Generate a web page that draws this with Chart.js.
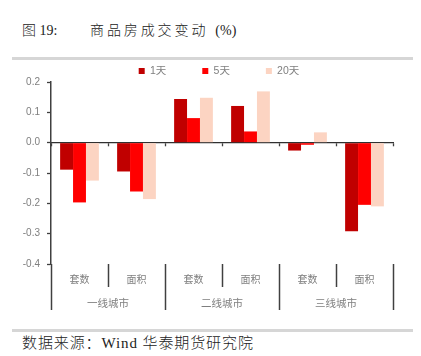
<!DOCTYPE html>
<html>
<head>
<meta charset="utf-8">
<script src="https://cdn.jsdelivr.net/npm/chart.js@4"></script>
<style>
  html, body { margin: 0; padding: 0; background: #fff; }
  #page { position: relative; width: 421px; height: 356px; overflow: hidden; }
  #chartBox { position: absolute; left: 0; top: 0; width: 421px; height: 356px; }
  .txt { position: absolute; white-space: nowrap; color: #222; font-weight: 300; }
  .serif { font-family: "Liberation Serif", "DejaVu Serif", "Noto Sans CJK SC", serif; }
  .rule { position: absolute; left: 12px; width: 401px; height: 3px; background: #d6d6d6; }
</style>
</head>
<body>
<div id="page">
  <div class="txt serif" style="left:22px; top:23px; font-size:14px; line-height:16px;">图 19:</div>
  <div class="txt serif" style="left:90px; top:23px; font-size:14px; line-height:16px;"><span style="letter-spacing:2.9px;">商品房成交变动</span><span>&nbsp;&nbsp;(%)</span></div>
  <div class="rule" style="top:57px;"></div>
  <div class="rule" style="top:329px;"></div>
  <div class="txt serif" style="left:22px; top:335px; font-size:15px; line-height:17px; letter-spacing:0.9px;">数据来源：Wind 华泰期货研究院</div>
  <div id="chartBox"><canvas id="c"></canvas></div>
</div>
<script>
// ---- data ----
const subLabels = ['套数', '面积', '套数', '面积', '套数', '面积'];
const groupLabels = ['一线城市', '二线城市', '三线城市'];
const seriesNames = ['1天', '5天', '20天'];
const day1  = [-0.089, -0.095, 0.144, 0.121, -0.026, -0.292];
const day5  = [-0.197, -0.161, 0.081, 0.037, -0.007, -0.205];
const day20 = [-0.125, -0.186, 0.148, 0.169,  0.034, -0.210];
const yTicks = [0.2, 0.1, 0.0, -0.1, -0.2, -0.3, -0.4];

const seriesColors = ['#C00000', '#FF0000', '#FCD4C2'];
const FONT = 'Liberation Sans, "Noto Sans CJK SC", sans-serif';
const GRAY = '#7f7f7f';
const LINE = '#404040';

// centre the legend over the plot area (as in the reference)
const legendOverPlot = {
  id: 'legendOverPlot',
  afterLayout(chart) {
    const l = chart.legend, a = chart.chartArea;
    if (l && a) { l.left = a.left - 6; l.right = a.right; }
  }
};

new Chart(document.getElementById('c'), {
  type: 'bar',
  plugins: [legendOverPlot],
  data: {
    labels: subLabels,
    datasets: [day1, day5, day20].map((d, i) => ({
      label: seriesNames[i],
      data: d,
      backgroundColor: seriesColors[i],
      borderWidth: 0,
      xAxisID: 'x',
      yAxisID: 'y',
      categoryPercentage: 0.68,
      barPercentage: 1.0
    }))
  },
  options: {
    responsive: true,
    maintainAspectRatio: false,
    animation: false,
    layout: { padding: { top: 29.75, left: 0, right: 28, bottom: 46 } },
    plugins: {
      tooltip: { enabled: false },
      legend: {
        position: 'top',
        align: 'center',
        maxHeight: 52.25,
        labels: {
          boxWidth: 6,
          boxHeight: 6,
          padding: 36,
          color: GRAY,
          font: { family: FONT, size: 10.5 }
        }
      }
    },
    scales: {
      x: {
        axis: 'x',
        type: 'category',
        position: 'bottom',
        offset: true,
        grid: {
          offset: true, display: true, drawOnChartArea: false, drawTicks: true,
          tickLength: 23, tickColor: LINE, tickWidth: 1.5
        },
        border: { display: false },
        ticks: { color: GRAY, padding: -13, maxRotation: 0, autoSkip: false,
                 font: { family: FONT, size: 10 } },
        afterFit(s) { s.height = 23; }
      },
      xg: {
        axis: 'x',
        type: 'category',
        position: 'bottom',
        labels: groupLabels,
        offset: true,
        grid: {
          offset: true, display: true, drawOnChartArea: false, drawTicks: true,
          tickLength: 23, tickColor: LINE, tickWidth: 1.5
        },
        border: { display: false },
        ticks: { color: GRAY, padding: -12.5, maxRotation: 0, autoSkip: false,
                 font: { family: FONT, size: 10.5 } },
        afterFit(s) { s.height = 23; }
      },
      xz: {
        axis: 'x',
        type: 'category',
        position: { y: 0 },
        offset: true,
        z: 1,
        grid: {
          offset: true, display: true, drawOnChartArea: false, drawTicks: true,
          tickLength: 3, tickColor: LINE, tickWidth: 1.3
        },
        border: { display: true, color: '#303030', width: 1.3 },
        ticks: { display: false }
      },
      y: {
        type: 'linear',
        position: 'left',
        min: yTicks[yTicks.length - 1],
        max: yTicks[0],
        afterBuildTicks(s) { s.ticks = yTicks.map(v => ({ value: v })); },
        grid: {
          display: true, drawOnChartArea: false, drawTicks: true,
          tickLength: 4, tickColor: LINE, tickWidth: 1.3
        },
        border: { display: true, color: LINE, width: 1.5 },
        ticks: {
          color: GRAY, padding: 7,
          font: { family: FONT, size: 10 },
          callback: v => { const t = Number(v).toFixed(1); return t === '-0.0' ? '0.0' : t; }
        },
        afterFit(s) { s.width = 51; }
      }
    }
  }
});
</script>
</body>
</html>
